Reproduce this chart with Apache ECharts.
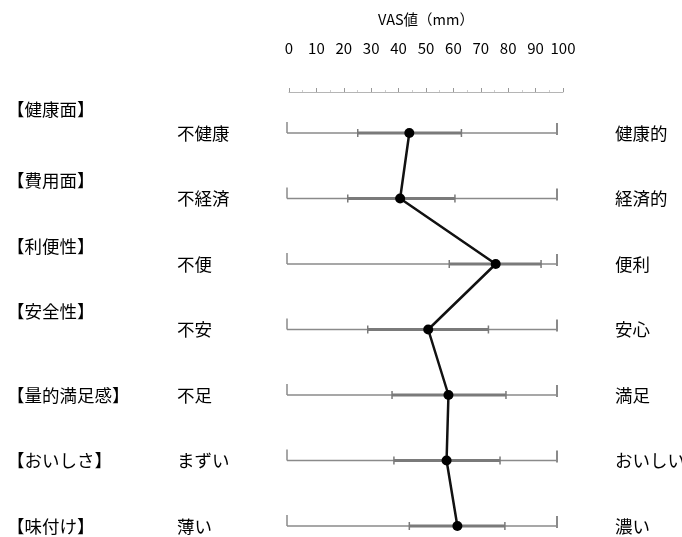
<!DOCTYPE html>
<html>
<head>
<meta charset="utf-8">
<script src="https://cdn.jsdelivr.net/npm/echarts@6/dist/echarts.min.js"></script>
<style>
html,body{margin:0;padding:0;background:#fff;}
#chart{width:682px;height:537px;}
</style>
</head>
<body>
<div id="chart"></div>
<script>
// ---- data ----
const categories = ['【健康面】', '【費用面】', '【利便性】', '【安全性】', '【量的満足感】', '【おいしさ】', '【味付け】'];
const leftPoles = ['不健康', '不経済', '不便', '不安', '不足', 'まずい', '薄い'];
const rightPoles = ['健康的', '経済的', '便利', '安心', '満足', 'おいしい', '濃い'];
const means = [45.3, 41.9, 77.3, 52.3, 59.8, 59.1, 63.1];
const lows  = [26.2, 22.5, 60.1, 29.9, 38.9, 39.6, 45.3];
const highs = [64.6, 62.2, 94.1, 74.6, 81.1, 78.9, 80.7];
const scaleMin = 0;
const scaleMax = 100;
const axisTitle = 'VAS値（mm）';

const FONT = '"Noto Sans CJK JP", "Noto Sans", sans-serif';

const chart = echarts.init(document.getElementById('chart'), null, {renderer: 'canvas'});

const option = {
  backgroundColor: '#ffffff',
  animation: false,
  grid: [
    {left: 289, width: 274, top: 82, height: 10, containLabel: false, outerBoundsMode: 'none'},
    {left: 287, width: 270, top: 133, height: 393, containLabel: false, outerBoundsMode: 'none'}
  ],
  xAxis: [
    {
      gridIndex: 0, type: 'value', min: scaleMin, max: scaleMax, interval: 10,
      position: 'top',
      name: axisTitle, nameLocation: 'middle', nameGap: 55,
      nameTextStyle: {fontFamily: FONT, fontSize: 14.5, color: '#000'},
      axisLine: {show: true, lineStyle: {color: '#b5b5b5', width: 1}},
      axisTick: {show: true, length: 4, lineStyle: {color: '#999', width: 1}},
      minorTick: {show: true, splitNumber: 2, length: 2, lineStyle: {color: '#ccc'}},
      axisLabel: {margin: 26, fontFamily: FONT, fontSize: 15, color: '#000'},
      splitLine: {show: false}
    },
    {
      gridIndex: 1, type: 'value', min: scaleMin, max: scaleMax, show: false
    }
  ],
  yAxis: [
    {
      gridIndex: 1, type: 'category', data: leftPoles, inverse: true, boundaryGap: false,
      position: 'left',
      axisLine: {show: false}, axisTick: {show: false}, splitLine: {show: false},
      axisLabel: {align: 'left', margin: 110, fontFamily: FONT, fontSize: 17.5, color: '#000'}
    },
    {
      gridIndex: 1, type: 'category', data: rightPoles, inverse: true, boundaryGap: false,
      position: 'right',
      axisLine: {show: false}, axisTick: {show: false}, splitLine: {show: false},
      axisLabel: {align: 'left', margin: 58, fontFamily: FONT, fontSize: 17.5, color: '#000'}
    },
    {
      gridIndex: 0, type: 'value', show: false
    }
  ],
  series: [
    {
      // VAS scale line per row
      type: 'custom', xAxisIndex: 1, yAxisIndex: 0, z: 1,
      data: categories.map((c, i) => [scaleMin, scaleMax, i]),
      renderItem: function (params, api) {
        const a = api.coord([api.value(0), api.value(2)]);
        const b = api.coord([api.value(1), api.value(2)]);
        const st = {stroke: '#8a8a8a', lineWidth: 1.5};
        return {
          type: 'group',
          children: [
            {type: 'line', shape: {x1: a[0], y1: a[1], x2: b[0], y2: b[1]}, style: st},
            {type: 'line', shape: {x1: a[0], y1: a[1] - 11, x2: a[0], y2: a[1]}, style: st},
            {type: 'line', shape: {x1: b[0], y1: b[1] - 10, x2: b[0], y2: b[1] + 2}, style: {stroke: '#8a8a8a', lineWidth: 2}}
          ]
        };
      }
    },
    {
      // error bars
      type: 'custom', xAxisIndex: 1, yAxisIndex: 0, z: 2,
      data: lows.map((l, i) => [l, highs[i], i]),
      renderItem: function (params, api) {
        const a = api.coord([api.value(0), api.value(2)]);
        const b = api.coord([api.value(1), api.value(2)]);
        return {
          type: 'group',
          children: [
            {type: 'line', shape: {x1: a[0], y1: a[1], x2: b[0], y2: b[1]}, style: {stroke: '#7a7a7a', lineWidth: 3}},
            {type: 'line', shape: {x1: a[0], y1: a[1] - 4, x2: a[0], y2: a[1] + 4}, style: {stroke: '#7a7a7a', lineWidth: 1.5}},
            {type: 'line', shape: {x1: b[0], y1: b[1] - 4, x2: b[0], y2: b[1] + 4}, style: {stroke: '#7a7a7a', lineWidth: 1.5}}
          ]
        };
      }
    },
    {
      // means
      type: 'line', xAxisIndex: 1, yAxisIndex: 0, z: 5,
      data: means.map((m, i) => [m, i]),
      symbol: 'circle', symbolSize: 10,
      lineStyle: {color: '#111', width: 2.5},
      itemStyle: {color: '#000'}
    },
    {
      // category labels
      type: 'custom', xAxisIndex: 1, yAxisIndex: 0, z: 3,
      data: categories.map((c, i) => [scaleMin, i]),
      renderItem: function (params, api) {
        const p = api.coord([api.value(0), api.value(1)]);
        const lift = params.dataIndex < 4 ? (params.dataIndex === 0 ? 24 : 18) : 0;
        return {
          type: 'text',
          x: p[0] - 280, y: p[1] - lift,
          style: {
            text: categories[params.dataIndex],
            fontFamily: FONT, fontSize: 17.5, fill: '#000',
            textAlign: 'left', textVerticalAlign: 'middle'
          }
        };
      }
    }
  ]
};
chart.setOption(option);
</script>
</body>
</html>
